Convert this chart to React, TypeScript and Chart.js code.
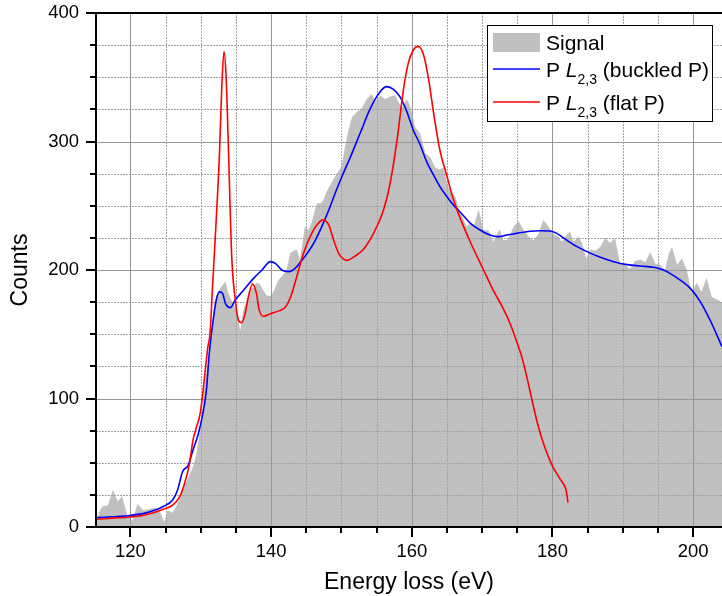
import { useEffect, useRef } from 'react';
import { Chart, registerables } from 'chart.js';

Chart.register(...registerables);

const FONT = '"Liberation Sans", Arial, Helvetica, sans-serif';

// ---- data ----
const signalEnergy = [
  115.1, 115.6, 116.0, 116.8, 117.5, 118.2, 118.8, 119.6, 120.3, 121.0, 121.8, 122.7, 123.4, 124.1, 124.8,
  125.3, 126.0, 126.7, 127.4, 128.1, 128.9, 129.3, 130.05, 130.5, 131.0, 131.5, 131.9, 132.4, 132.9, 133.5,
  133.9, 134.6, 135.1, 135.6, 136.1, 136.6, 137.2, 137.9, 138.4, 138.9, 139.4, 140.0, 140.5, 141.0, 141.5,
  142.2, 142.7, 143.2, 143.65, 144.1, 144.8, 145.3, 145.8, 146.5, 147.0, 147.4, 147.9, 148.6, 149.3, 150.0,
  150.5, 151.0, 151.5, 152.2, 152.9, 153.6, 154.3, 154.8, 155.5, 156.2, 156.9, 157.6, 158.1, 158.6, 159.3,
  159.8, 160.5, 161.2, 161.9, 162.6, 163.3, 164.0, 164.5, 165.0, 165.4, 166.2, 166.9, 167.8, 168.3, 168.8,
  169.5, 170.2, 170.9, 171.6, 172.5, 173.0, 173.7, 174.5, 175.2, 175.9, 176.6, 177.3, 178.0, 178.7, 179.4,
  180.1, 180.85, 181.3, 182.0, 182.5, 183.0, 183.7, 184.2, 184.8, 185.4, 186.1, 186.8, 187.5, 188.2, 188.9,
  189.6, 190.3, 191.0, 191.75, 192.5, 193.2, 193.9, 194.6, 195.3, 196.0, 196.5, 197.0, 197.7, 198.4, 199.1,
  199.8, 200.5, 201.2, 201.9, 202.65, 203.4, 204.1,
];
const signalCounts = [
  5, 12, 16, 17, 29, 20, 24, 8, 5, 18, 13, 14, 15, 13, 4,
  13, 11, 18, 29, 37, 47, 55, 81, 109, 127, 148, 174, 182, 187, 191,
  182, 174, 168, 153, 170, 178, 185, 190, 189, 184, 180, 180, 185, 192, 195,
  200, 213, 215, 216, 208, 234, 231, 238, 252, 252, 254, 261, 268, 275, 280,
  296, 309, 319, 323, 326, 333, 337, 331, 336, 333, 335, 336, 331, 326, 333,
  327, 311, 306, 291, 288, 280, 278, 280, 268, 262, 257, 245, 234, 236, 234,
  247, 231, 231, 222, 232, 223, 224, 234, 238, 231, 226, 223, 228, 239, 234,
  228, 226, 222, 227, 230, 222, 226, 221, 209, 216, 215, 218, 225, 221, 225,
  205, 204, 201, 207, 208, 206, 214, 205, 204, 200, 212, 218, 204, 209, 200,
  182, 190, 183, 194, 179, 177, 175,
];

const buckledEnergy = [
  115.1, 119.9, 122.2, 124.6, 126.0, 126.7, 127.4, 128.2, 128.9, 129.6, 130.3, 130.8, 131.2, 131.7, 132.2,
  132.65, 133.1, 133.5, 134.2, 134.9, 136.1, 137.5, 138.7, 139.9, 140.6, 141.5, 142.5, 143.4, 144.4, 145.3,
  146.3, 147.2, 148.2, 149.1, 150.05, 151.2, 152.65, 154.1, 155.5, 156.4, 157.4, 158.3, 159.3, 160.2, 161.2,
  162.1, 163.1, 164.0, 165.0, 165.9, 166.9, 168.3, 169.7, 171.1, 172.3, 173.5, 174.9, 176.3, 178.2, 179.7,
  180.6, 182.0, 183.5, 184.9, 186.8, 188.7, 190.6, 192.5, 194.4, 195.8, 196.7, 198.15, 199.6, 201.0, 202.4,
  204.1,
];
const buckledCounts = [
  7.3, 9, 11, 15.8, 21, 28.8, 43, 48, 60, 71.6, 88.5, 106.6, 135, 158.5, 176.7,
  183, 181.8, 174, 170.7, 176.7, 184.4, 193.5, 200, 206.5, 205.2, 200, 198.7, 201.3, 207.8, 214.3,
  223.3, 233.7, 246.7, 259.7, 272.6, 287, 306.4, 325.8, 338.8, 342.7, 340.6, 334.9, 323.2, 309, 297.3,
  284.3, 273.9, 264.9, 257, 250.6, 245, 236.5, 231.1, 227.2, 226, 227.2, 228.5, 229.8, 230.6, 230.3,
  228.5, 223.3, 218.2, 214.3, 209.9, 206.5, 204.2, 203.1, 202.1, 200, 197.4, 192.2, 185.7, 175.4, 161.1,
  140.3,
];

const flatEnergy = [
  115.1, 117.5, 119.9, 122.2, 124.6, 126.0, 127.0, 127.7, 128.4, 128.9, 129.4, 129.9, 130.3, 130.6, 131.0,
  131.3, 131.7, 132.2, 132.65, 133.0, 133.3, 133.6, 133.9, 134.4, 134.9, 135.35, 135.8, 136.3, 136.8, 137.35,
  137.9, 138.3, 138.9, 139.9, 141.0, 142.0, 142.7, 143.65, 144.6, 145.55, 146.5, 147.4, 148.2, 148.9, 149.6,
  150.3, 150.8, 151.7, 153.1, 154.5, 156.0, 156.9, 157.9, 158.8, 159.5, 160.2, 160.9, 161.7, 162.4, 163.1,
  164.0, 165.0, 165.9, 166.9, 168.3, 170.2, 171.6, 173.0, 174.0, 174.8, 175.6, 176.3, 177.0, 177.9, 178.9,
  179.95, 181.0, 181.8, 182.0, 182.2,
];
const flatCounts = [
  6, 6.9, 7.8, 9.6, 13.7, 17, 23.6, 34, 49.5, 68, 78, 88, 105, 120, 140,
  150, 190, 240, 290, 345, 370, 350, 300, 210, 177, 161, 159, 166, 180, 189,
  182, 169, 164, 166, 168, 171, 178, 195, 213, 226, 235, 239, 235, 223, 213,
  208.5, 207.5, 210, 216, 228, 247, 267, 301, 340, 361, 371, 374, 367, 348, 322,
  293, 273, 255, 240, 222, 200, 184, 170, 158, 146, 133, 118, 101, 80, 62,
  48, 38, 31, 27, 19,
];

const seriesLabels = ['Signal', 'P L2,3 (buckled P)', 'P L2,3 (flat P)'];
const legendSuffixes = ['(buckled P)', '(flat P)'];
const xTickValues = [120, 140, 160, 180, 200];
const yTickValues = [0, 100, 200, 300, 400];
const xMinorStep = 5;
const yMinorStep = 25;
const X_MIN = 115.1;
const X_MAX = 204.1;
const Y_MIN = 0;
const Y_MAX = 400;

const SIGNAL_COLOR = '#c0c0c0';
const BLUE = '#0000ff';
const RED = '#ff0000';

const toPoints = (xs: number[], ys: number[]) => xs.map((x, i) => ({ x, y: ys[i] }));

const framePlugin = {
  id: 'frame',
  afterDatasetDraw(chart: any, args: any) {
    if (args.index !== 0) return;
    const { ctx, chartArea: a, scales } = chart;
    const xs = scales.x;
    const ys = scales.y;
    ctx.save();
    ctx.beginPath();
    ctx.rect(a.left, a.top, a.right - a.left, a.bottom - a.top);
    ctx.clip();
    ctx.lineWidth = 1;
    // minor grid (dotted)
    ctx.setLineDash([2, 1]);
    ctx.strokeStyle = '#a2a2a2';
    ctx.beginPath();
    for (let v = xTickValues[0] - 20; v <= X_MAX; v += xMinorStep) {
      if (v <= X_MIN || xTickValues.includes(v)) continue;
      const px = Math.round(xs.getPixelForValue(v)) + 0.5;
      ctx.moveTo(px, a.top);
      ctx.lineTo(px, a.bottom);
    }
    for (let v = Y_MIN + yMinorStep; v < Y_MAX; v += yMinorStep) {
      if (yTickValues.includes(v)) continue;
      const py = Math.round(ys.getPixelForValue(v)) + 0.5;
      ctx.moveTo(a.left, py);
      ctx.lineTo(a.right, py);
    }
    ctx.stroke();
    // major grid (solid)
    ctx.setLineDash([]);
    ctx.strokeStyle = '#969696';
    ctx.beginPath();
    for (const v of xTickValues) {
      const px = Math.round(xs.getPixelForValue(v)) + 0.5;
      ctx.moveTo(px, a.top);
      ctx.lineTo(px, a.bottom);
    }
    for (const v of yTickValues) {
      if (v === Y_MIN || v === Y_MAX) continue;
      const py = Math.round(ys.getPixelForValue(v)) + 0.5;
      ctx.moveTo(a.left, py);
      ctx.lineTo(a.right, py);
    }
    ctx.stroke();
    ctx.restore();
  },
  afterDatasetsDraw(chart: any) {
    const { ctx, chartArea: a, scales } = chart;
    const xs = scales.x;
    const ys = scales.y;
    ctx.save();
    ctx.strokeStyle = '#000';
    ctx.lineWidth = 2;
    ctx.setLineDash([]);
    // axes lines
    ctx.beginPath();
    ctx.moveTo(a.left, a.top - 1);
    ctx.lineTo(a.left, a.bottom + 1);
    ctx.moveTo(a.left - 1, a.bottom);
    ctx.lineTo(a.right, a.bottom);
    ctx.moveTo(a.left - 1, a.top);
    ctx.lineTo(a.right, a.top);
    ctx.stroke();
    // x ticks
    ctx.beginPath();
    for (let v = xTickValues[0]; v <= X_MAX; v += xMinorStep) {
      const px = Math.round(xs.getPixelForValue(v));
      const len = xTickValues.includes(v) ? 10 : 6;
      ctx.moveTo(px, a.bottom);
      ctx.lineTo(px, a.bottom + len);
    }
    // y ticks
    for (let v = Y_MIN; v <= Y_MAX; v += yMinorStep) {
      const py = Math.round(ys.getPixelForValue(v));
      const len = yTickValues.includes(v) ? 10 : 6;
      ctx.moveTo(a.left, py);
      ctx.lineTo(a.left - len, py);
    }
    ctx.stroke();
    ctx.restore();
  },
  afterDraw(chart: any) {
    const { ctx } = chart;
    ctx.save();
    // legend box
    ctx.fillStyle = '#fff';
    ctx.fillRect(487.5, 25.5, 225, 96);
    ctx.strokeStyle = '#000';
    ctx.lineWidth = 1;
    ctx.strokeRect(487.5, 25.5, 225, 96);
    // swatches
    ctx.fillStyle = SIGNAL_COLOR;
    ctx.fillRect(493, 33, 47, 19);
    ctx.lineWidth = 1.6;
    ctx.strokeStyle = BLUE;
    ctx.beginPath();
    ctx.moveTo(493, 69);
    ctx.lineTo(540, 69);
    ctx.stroke();
    ctx.strokeStyle = RED;
    ctx.beginPath();
    ctx.moveTo(493, 102);
    ctx.lineTo(540, 102);
    ctx.stroke();
    // texts
    ctx.fillStyle = '#000';
    ctx.textBaseline = 'alphabetic';
    ctx.textAlign = 'left';
    ctx.font = `21px ${FONT}`;
    ctx.fillText(seriesLabels[0], 546, 50);
    const row = (baseline: number, suffix: string) => {
      let x = 546;
      ctx.font = `21px ${FONT}`;
      ctx.fillText('P ', x, baseline);
      x += ctx.measureText('P ').width;
      ctx.font = `italic 21px ${FONT}`;
      ctx.fillText('L', x, baseline);
      x += ctx.measureText('L').width;
      ctx.font = `14px ${FONT}`;
      ctx.fillText('2,3', x, baseline + 7);
      x += ctx.measureText('2,3').width;
      ctx.font = `21px ${FONT}`;
      ctx.fillText(' ' + suffix, x, baseline);
    };
    row(77, legendSuffixes[0]);
    row(110, legendSuffixes[1]);
    ctx.restore();
  },
};

export default function App() {
  const canvasRef = useRef<HTMLCanvasElement | null>(null);

  useEffect(() => {
    if (!canvasRef.current) return;
    const chart = new Chart(canvasRef.current, {
      type: 'line',
      data: {
        datasets: [
          {
            label: seriesLabels[0],
            data: toPoints(signalEnergy, signalCounts),
            borderWidth: 0,
            borderColor: SIGNAL_COLOR,
            backgroundColor: SIGNAL_COLOR,
            fill: 'origin',
            pointRadius: 0,
            tension: 0,
            order: 3,
          },
          {
            label: seriesLabels[1],
            data: toPoints(buckledEnergy, buckledCounts),
            borderWidth: 1.6,
            borderColor: BLUE,
            backgroundColor: BLUE,
            fill: false,
            pointRadius: 0,
            cubicInterpolationMode: 'monotone',
            order: 2,
          },
          {
            label: seriesLabels[2],
            data: toPoints(flatEnergy, flatCounts),
            borderWidth: 1.6,
            borderColor: RED,
            backgroundColor: RED,
            fill: false,
            pointRadius: 0,
            cubicInterpolationMode: 'monotone',
            order: 1,
          },
        ],
      },
      options: {
        animation: false,
        responsive: true,
        maintainAspectRatio: false,
        events: [],
        layout: { padding: { top: 13, right: 0, bottom: 0, left: 0 } },
        plugins: {
          legend: { display: false },
          tooltip: { enabled: false },
          title: { display: false },
        },
        scales: {
          x: {
            type: 'linear',
            min: X_MIN,
            max: X_MAX,
            afterBuildTicks: (s: any) => {
              s.ticks = xTickValues.map((v) => ({ value: v }));
            },
            afterFit: (s: any) => {
              s.height = 69;
              s.paddingLeft = 0;
              s.paddingRight = 0;
            },
            grid: { display: false, drawTicks: false },
            border: { display: false },
            ticks: {
              color: '#000',
              font: { family: FONT, size: 18.5 },
              padding: 14,
              maxRotation: 0,
              autoSkip: false,
            },
            title: {
              display: true,
              text: 'Energy loss (eV)',
              color: '#000',
              font: { family: FONT, size: 23 },
              padding: { top: 0, bottom: 0 },
            },
          },
          y: {
            type: 'linear',
            min: Y_MIN,
            max: Y_MAX,
            afterBuildTicks: (s: any) => {
              s.ticks = yTickValues.map((v) => ({ value: v }));
            },
            afterFit: (s: any) => {
              s.width = 96;
              s.paddingTop = 0;
              s.paddingBottom = 0;
            },
            grid: { display: false, drawTicks: false },
            border: { display: false },
            ticks: {
              color: '#000',
              font: { family: FONT, size: 18.5 },
              padding: 17,
              autoSkip: false,
            },
            title: {
              display: true,
              text: 'Counts',
              color: '#000',
              font: { family: FONT, size: 23 },
              padding: { top: 7, bottom: 0 },
            },
          },
        },
      },
      plugins: [framePlugin],
    });
    return () => chart.destroy();
  }, []);

  return (
    <div style={{ position: 'fixed', left: 0, top: 0, width: 722, height: 596, background: '#fff' }}>
      <canvas ref={canvasRef} />
    </div>
  );
}
